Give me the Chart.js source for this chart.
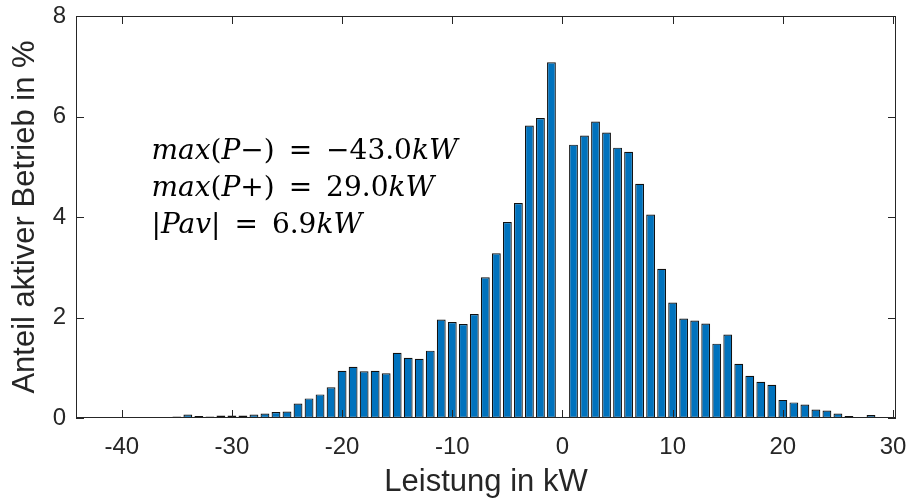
<!DOCTYPE html>
<html>
<head>
<meta charset="utf-8">
<script src="https://cdn.jsdelivr.net/npm/chart.js@4.4.1/dist/chart.umd.min.js"></script>
<style>
    body { margin: 0; background: #fff; }
    canvas { display: block; }
</style>
</head>
<body>
<canvas id="hist" width="910" height="502"></canvas>
<script>
// bin centres in kW (the 0 kW bin is empty)
const kwBins = [-43, -42, -41, -40, -39, -38, -37, -36, -35, -34, -33, -32, -31, -30, -29, -28, -27, -26, -25, -24,
    -23, -22, -21, -20, -19, -18, -17, -16, -15, -14, -13, -12, -11, -10, -9, -8, -7, -6, -5, -4, -3, -2, -1,
    1, 2, 3, 4, 5, 6, 7, 8, 9, 10, 11, 12, 13, 14, 15, 16, 17, 18, 19, 20, 21, 22, 23, 24, 25, 26, 27, 28];
// share of active operation in %
const shares = [0.01, 0.01, 0.01, 0.01, 0.01, 0.01, 0.01, 0.02, 0.03, 0.07, 0.04, 0.03, 0.05, 0.05, 0.05, 0.07, 0.09, 0.12, 0.13, 0.29,
    0.39, 0.47, 0.61, 0.94, 1.02, 0.93, 0.94, 0.89, 1.30, 1.20, 1.18, 1.34, 1.96, 1.91, 1.87, 2.07, 2.80, 3.28, 3.90, 4.28, 5.82, 5.97, 7.08,
    5.44, 5.62, 5.90, 5.68, 5.38, 5.30, 4.66, 4.05, 2.97, 2.30, 1.98, 1.94, 1.88, 1.48, 1.66, 1.08, 0.84, 0.72, 0.66, 0.36, 0.31, 0.27, 0.17, 0.15, 0.09, 0.04, 0.02, 0.06];
const xTicks = [-40, -30, -20, -10, 0, 10, 20, 30];
const yTicks = [0, 2, 4, 6, 8];

// annotation lines: [text, italic]
const EQ = '\u2002=\u2002';
const noteLines = [
    [['max', 1], ['(', 0], ['P', 1], ['\u2212', 0], [')', 0], [EQ + '\u221243.0', 0], ['kW', 1]],
    [['max', 1], ['(', 0], ['P', 1], ['+', 0], [')', 0], [EQ + '29.0', 0], ['kW', 1]],
    [['|', 0], ['Pav', 1], ['|', 0], [EQ + '6.9', 0], ['kW', 1]]
];

const AXIS_COLOR = '#262626';
Chart.defaults.font.family = '"Liberation Sans", Arial, sans-serif';
Chart.defaults.color = AXIS_COLOR;

const matlabAxes = {
    id: 'matlabAxes',
    afterDatasetsDraw(chart) {
        const { ctx, chartArea: a, scales: { x, y } } = chart;
        ctx.save();
        ctx.strokeStyle = AXIS_COLOR;
        ctx.lineWidth = 1;
        ctx.strokeRect(a.left + 0.5, a.top + 0.5, a.right - a.left - 1, a.bottom - a.top - 1);
        ctx.beginPath();
        xTicks.forEach(v => {
            const px = Math.round(x.getPixelForValue(v)) + 0.5;
            ctx.moveTo(px, a.bottom); ctx.lineTo(px, a.bottom - 8);
            ctx.moveTo(px, a.top); ctx.lineTo(px, a.top + 8);
        });
        yTicks.forEach(v => {
            const py = Math.round(y.getPixelForValue(v)) + 0.5;
            ctx.moveTo(a.left, py); ctx.lineTo(a.left + 8, py);
            ctx.moveTo(a.right, py); ctx.lineTo(a.right - 8, py);
        });
        ctx.stroke();

        // text box in data coordinates
        ctx.fillStyle = '#000';
        ctx.textBaseline = 'alphabetic';
        const left = x.getPixelForValue(-37.3);
        noteLines.forEach((line, i) => {
            let cx = left;
            const by = y.getPixelForValue(5.15 - i * 0.73);
            line.forEach(([txt, it]) => {
                ctx.font = (it ? 'italic ' : '') + '28px "DejaVu Serif", "Liberation Serif", serif';
                ctx.fillText(txt, cx, by);
                cx += ctx.measureText(txt).width;
            });
        });
        ctx.restore();
    }
};

new Chart(document.getElementById('hist'), {
    type: 'bar',
    data: {
        datasets: [{
            data: kwBins.map((kw, i) => ({ x: kw, y: shares[i] })),
            backgroundColor: '#0072BD',
            borderColor: '#111',
            borderWidth: 1.2,
            borderSkipped: false,
            barPercentage: 0.8,
            categoryPercentage: 1.0
        }]
    },
    options: {
        responsive: false,
        animation: false,
        layout: { padding: { top: 16, right: 14, left: 0, bottom: 0 } },
        plugins: { legend: { display: false }, tooltip: { enabled: false } },
        scales: {
            x: {
                type: 'linear',
                offset: false,
                min: -44.15,
                max: 30.27,
                afterFit: s => { s.height = 84; s.paddingLeft = 0; s.paddingRight = 0; },
                afterBuildTicks: s => { s.ticks = xTicks.map(v => ({ value: v })); },
                grid: { display: false, drawTicks: false, offset: false },
                border: { display: false },
                ticks: { font: { size: 24 }, padding: 15, maxRotation: 0, autoSkip: false },
                title: { display: true, text: 'Leistung in kW', font: { size: 31, lineHeight: 1 }, padding: { top: 5 } }
            },
            y: {
                min: 0,
                max: 8,
                afterFit: s => { s.width = 76; s.paddingTop = 0; s.paddingBottom = 0; },
                afterBuildTicks: s => { s.ticks = yTicks.map(v => ({ value: v })); },
                grid: { display: false, drawTicks: false },
                border: { display: false },
                ticks: { font: { size: 24 }, padding: 10 },
                title: { display: true, text: 'Anteil aktiver Betrieb in %', font: { size: 31, lineHeight: 1 }, padding: { top: 10 } }
            }
        }
    },
    plugins: [matlabAxes]
});
</script>
</body>
</html>
